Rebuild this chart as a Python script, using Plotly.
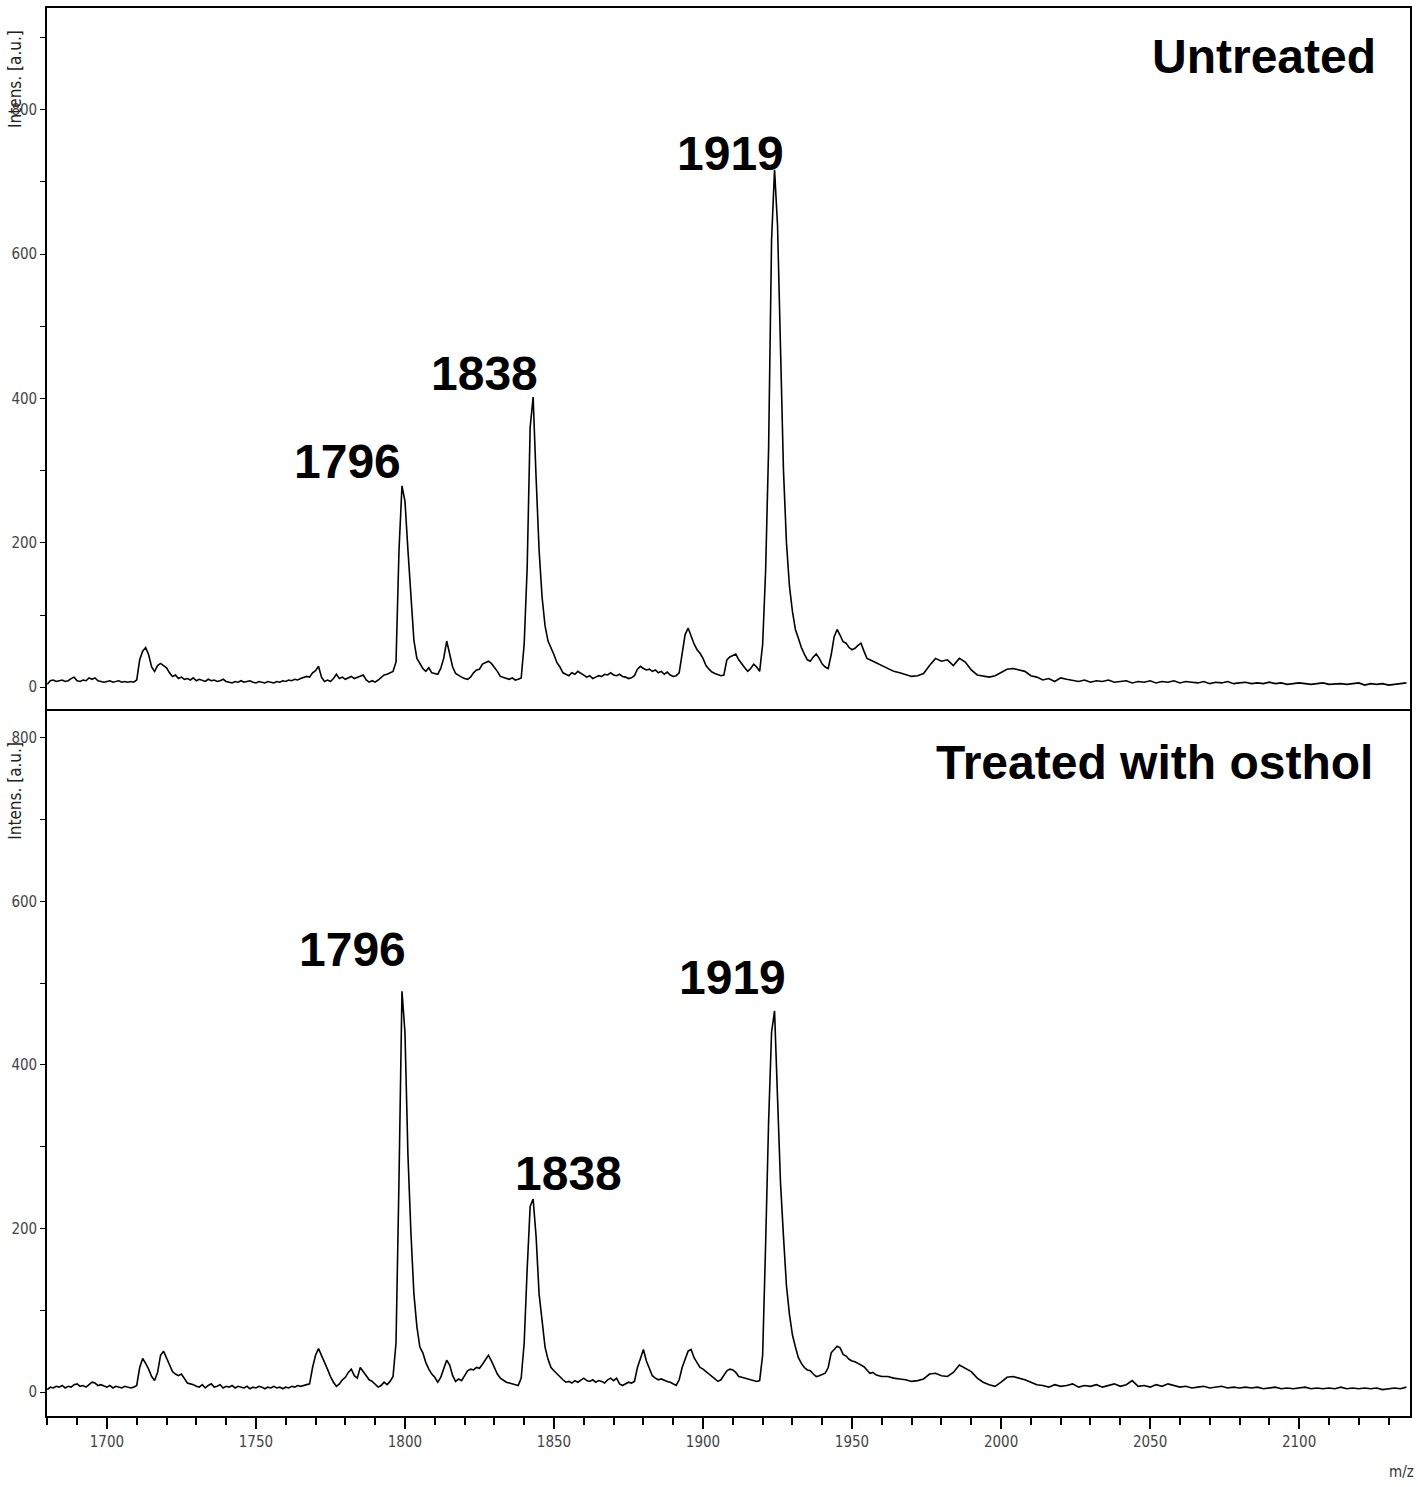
import plotly.graph_objects as go
from plotly.subplots import make_subplots

# m/z sampling of the traced spectra (1 Da steps up to 1960, then 2 Da steps)
mz = [
    1680, 1681, 1682, 1683, 1684, 1685, 1686, 1687, 1688, 1689,
    1690, 1691, 1692, 1693, 1694, 1695, 1696, 1697, 1698, 1699,
    1700, 1701, 1702, 1703, 1704, 1705, 1706, 1707, 1708, 1709,
    1710, 1711, 1712, 1713, 1714, 1715, 1716, 1717, 1718, 1719,
    1720, 1721, 1722, 1723, 1724, 1725, 1726, 1727, 1728, 1729,
    1730, 1731, 1732, 1733, 1734, 1735, 1736, 1737, 1738, 1739,
    1740, 1741, 1742, 1743, 1744, 1745, 1746, 1747, 1748, 1749,
    1750, 1751, 1752, 1753, 1754, 1755, 1756, 1757, 1758, 1759,
    1760, 1761, 1762, 1763, 1764, 1765, 1766, 1767, 1768, 1769,
    1770, 1771, 1772, 1773, 1774, 1775, 1776, 1777, 1778, 1779,
    1780, 1781, 1782, 1783, 1784, 1785, 1786, 1787, 1788, 1789,
    1790, 1791, 1792, 1793, 1794, 1795, 1796, 1797, 1798, 1799,
    1800, 1801, 1802, 1803, 1804, 1805, 1806, 1807, 1808, 1809,
    1810, 1811, 1812, 1813, 1814, 1815, 1816, 1817, 1818, 1819,
    1820, 1821, 1822, 1823, 1824, 1825, 1826, 1827, 1828, 1829,
    1830, 1831, 1832, 1833, 1834, 1835, 1836, 1837, 1838, 1839,
    1840, 1841, 1842, 1843, 1844, 1845, 1846, 1847, 1848, 1849,
    1850, 1851, 1852, 1853, 1854, 1855, 1856, 1857, 1858, 1859,
    1860, 1861, 1862, 1863, 1864, 1865, 1866, 1867, 1868, 1869,
    1870, 1871, 1872, 1873, 1874, 1875, 1876, 1877, 1878, 1879,
    1880, 1881, 1882, 1883, 1884, 1885, 1886, 1887, 1888, 1889,
    1890, 1891, 1892, 1893, 1894, 1895, 1896, 1897, 1898, 1899,
    1900, 1901, 1902, 1903, 1904, 1905, 1906, 1907, 1908, 1909,
    1910, 1911, 1912, 1913, 1914, 1915, 1916, 1917, 1918, 1919,
    1920, 1921, 1922, 1923, 1924, 1925, 1926, 1927, 1928, 1929,
    1930, 1931, 1932, 1933, 1934, 1935, 1936, 1937, 1938, 1939,
    1940, 1941, 1942, 1943, 1944, 1945, 1946, 1947, 1948, 1949,
    1950, 1951, 1952, 1953, 1954, 1955, 1956, 1957, 1958, 1959,
    1960,
    1962, 1964, 1966, 1968, 1970, 1972, 1974, 1976, 1978, 1980,
    1982, 1984, 1986, 1988, 1990, 1992, 1994, 1996, 1998, 2000,
    2002, 2004, 2006, 2008, 2010, 2012, 2014, 2016, 2018, 2020,
    2022, 2024, 2026, 2028, 2030, 2032, 2034, 2036, 2038, 2040,
    2042, 2044, 2046, 2048, 2050, 2052, 2054, 2056, 2058, 2060,
    2062, 2064, 2066, 2068, 2070, 2072, 2074, 2076, 2078, 2080,
    2082, 2084, 2086, 2088, 2090, 2092, 2094, 2096, 2098, 2100,
    2102, 2104, 2106, 2108, 2110, 2112, 2114, 2116, 2118, 2120,
    2122, 2124, 2126, 2128, 2130, 2132, 2134, 2136,
]

# Intensity [a.u.] - untreated sample
untreated = [
    4, 9, 10, 8, 9, 10, 8, 9, 12, 14,
    9, 8, 10, 9, 13, 11, 13, 9, 8, 7,
    8, 9, 7, 8, 9, 7, 8, 7, 8, 7,
    10, 38, 50, 55, 45, 28, 22, 30, 33, 30,
    27, 20, 15, 17, 12, 14, 11, 12, 10, 13,
    9, 11, 10, 8, 11, 9, 10, 8, 9, 11,
    8, 7, 6, 8, 7, 9, 7, 8, 9, 7,
    6, 8, 7, 6, 8, 7, 6, 8, 7, 9,
    8, 10, 9, 11, 10, 12, 13, 15, 14, 20,
    23, 29, 14, 8, 10, 8, 12, 18, 12, 14,
    11, 13, 15, 12, 14, 16, 17, 10, 7, 9,
    7, 10, 13, 17, 18, 20, 22, 35, 190, 279,
    258, 190, 125, 65, 40, 32, 26, 22, 27, 20,
    19, 18, 26, 40, 64, 45, 28, 19, 16, 14,
    12, 11, 14, 20, 24, 25, 32, 34, 36, 33,
    28, 22, 15, 14, 12, 11, 13, 10, 11, 13,
    60, 165, 360, 402, 290, 190, 125, 85, 64, 55,
    45, 34, 28, 20, 18, 16, 20, 18, 22, 19,
    17, 14, 16, 12, 14, 16, 15, 18, 17, 20,
    17, 16, 18, 15, 14, 12, 13, 16, 25, 29,
    26, 24, 25, 22, 24, 20, 22, 18, 21, 17,
    15, 16, 20, 50, 73, 82, 70, 60, 52, 47,
    40, 30, 25, 21, 19, 18, 16, 17, 38, 42,
    44, 46, 38, 32, 27, 22, 26, 32, 28, 22,
    59, 161, 330, 620, 717, 640, 450, 300, 200, 140,
    105, 80, 68, 55, 46, 38, 36, 42, 46, 40,
    32, 28, 26, 45, 70, 80, 72, 63, 61, 55,
    52, 54, 58, 61, 50, 40, 38, 36, 34, 33,
    30,
    26, 22, 20, 17, 15, 16, 19, 30, 40, 36,
    38, 30, 40, 35, 24, 17, 15, 14, 16, 20,
    25, 26, 24, 22, 16, 14, 10, 12, 8, 13,
    11, 9, 8, 10, 7, 9, 8, 10, 7, 8,
    9, 6, 8, 7, 9, 6, 8, 7, 9, 6,
    8, 7, 6, 8, 5, 7, 6, 8, 5, 6,
    7, 5, 6, 5, 7, 5, 6, 4, 5, 6,
    5, 4, 5, 6, 4, 5, 5, 4, 5, 6,
    3, 5, 4, 5, 3, 4, 5, 6,
]

# Intensity [a.u.] - sample treated with osthol
treated = [
    3, 6, 5, 7, 6, 8, 5, 7, 6, 9,
    10, 7, 8, 6, 9, 12, 11, 8, 9, 7,
    6, 8, 5, 7, 6, 5, 7, 6, 5, 6,
    8, 30, 41, 35, 28, 19, 14, 24, 45, 50,
    42, 34, 25, 22, 20, 22, 16, 11, 10, 9,
    7, 6, 9, 5, 8, 10, 6, 7, 9, 5,
    7, 6, 8, 5, 7, 6, 5, 7, 4, 6,
    5, 7, 6, 4, 6, 5, 7, 5, 6, 4,
    6, 5, 7, 6, 8, 7, 8, 9, 10, 30,
    45, 53, 45, 38, 28, 19, 12, 7, 10, 15,
    18, 24, 28, 20, 17, 30, 25, 19, 15, 13,
    9, 6, 8, 12, 9, 13, 19, 60, 260, 490,
    440, 290, 195, 120, 80, 55, 48, 36, 28, 22,
    18, 12, 18, 30, 39, 33, 20, 13, 16, 14,
    20, 26, 28, 27, 30, 29, 34, 40, 45, 38,
    30, 22, 17, 14, 12, 11, 10, 9, 8, 17,
    60, 150, 227, 236, 190, 120, 85, 55, 40, 30,
    26, 22, 18, 15, 12, 13, 11, 14, 12, 15,
    17, 14, 13, 15, 12, 14, 13, 11, 15, 17,
    14, 17, 10, 8, 10, 12, 11, 13, 30, 40,
    52, 38, 28, 20, 17, 15, 16, 14, 13, 12,
    10, 8, 15, 30, 40, 50, 52, 42, 36, 30,
    28, 25, 22, 20, 16, 13, 15, 20, 26, 28,
    27, 24, 19, 18, 17, 16, 15, 14, 13, 14,
    45, 180, 330, 440, 466, 360, 256, 190, 130, 95,
    70, 55, 42, 35, 30, 27, 26, 22, 19, 20,
    22, 23, 30, 48, 52, 56, 54, 46, 44, 40,
    38, 37, 35, 33, 31, 27, 23, 24, 21, 20,
    19,
    19, 17, 16, 15, 13, 14, 16, 22, 23, 20,
    19, 24, 33, 29, 25, 17, 12, 9, 7, 12,
    18, 19, 17, 15, 12, 9, 8, 6, 9, 7,
    8, 10, 6, 8, 7, 9, 6, 8, 10, 7,
    9, 14, 7, 8, 6, 9, 7, 10, 8, 6,
    7, 5, 6, 7, 5, 6, 7, 5, 6, 5,
    6, 5, 6, 4, 5, 6, 4, 5, 4, 5,
    6, 4, 5, 4, 5, 4, 6, 4, 5, 4,
    5, 4, 5, 3, 4, 5, 4, 6,
]

# labelled peaks: text and m/z of the apex
peak_labels = ["1796", "1838", "1919"]
peak_apex_mz = [1799, 1843, 1924]

assert len(mz) == len(untreated) == len(treated)

LABEL_FONT = dict(family="Liberation Sans, Arial, sans-serif", size=48, color="black")
NARROW = "Liberation Sans Narrow, DejaVu Sans Condensed, sans-serif"
TICK_FONT = dict(family=NARROW, size=15, color="#444")

fig = make_subplots(rows=2, cols=1, shared_xaxes=True, vertical_spacing=0)

fig.add_trace(
    go.Scatter(x=mz, y=untreated, mode="lines", line=dict(color="black", width=1.6)),
    row=1, col=1,
)
fig.add_trace(
    go.Scatter(x=mz, y=treated, mode="lines", line=dict(color="black", width=1.6)),
    row=2, col=1,
)

fig.update_xaxes(
    range=[1679.9, 2137.2], showline=True, linecolor="black", linewidth=1.6,
    showgrid=False, zeroline=False,
)
# top panel: full box; its bottom edge is the divider between the panels
fig.update_xaxes(showticklabels=False, ticks="", mirror=True, row=1, col=1)
fig.update_xaxes(
    mirror=False,
    ticks="outside", tick0=1700, dtick=50, ticklen=11, tickwidth=1.5, tickcolor="black",
    minor=dict(ticks="outside", dtick=10, ticklen=7, tickwidth=1.5, tickcolor="black"),
    tickfont=TICK_FONT,
    row=2, col=1,
)
fig.update_yaxes(
    ticks="outside", tick0=0, dtick=200, ticklen=5, tickwidth=1.2, tickcolor="black",
    minor=dict(ticks="outside", dtick=100, ticklen=5, tickwidth=1.2, tickcolor="black"),
    tickfont=TICK_FONT,
    showline=True, mirror=True, linecolor="black", linewidth=1.6,
    showgrid=False, zeroline=False,
)
fig.update_yaxes(range=[-30.4, 941], domain=[0.502, 1.0], row=1, col=1)
fig.update_yaxes(range=[-29.3, 835], domain=[0.0, 0.502], row=2, col=1)

# peak labels, placed relative to each apex
top_shifts = [(-54, 24), (-49, 24), (-44, 16)]
bottom_shifts = [(-49, 42), (35, 26), (-42, 33)]
for series, xref, yref, shifts in [
    (untreated, "x", "y", top_shifts),
    (treated, "x2", "y2", bottom_shifts),
]:
    for label, apex, (dx, dy) in zip(peak_labels, peak_apex_mz, shifts):
        fig.add_annotation(
            x=apex, y=series[mz.index(apex)], xref=xref, yref=yref,
            text=f"<b>{label}</b>", showarrow=False,
            xshift=dx, yshift=dy, yanchor="middle", font=LABEL_FONT,
        )

# panel titles
fig.add_annotation(
    x=0.9765, y=0.9652, xref="paper", yref="paper", text="<b>Untreated</b>",
    showarrow=False, xanchor="right", yanchor="middle", font=LABEL_FONT,
)
fig.add_annotation(
    x=0.9743, y=0.4638, xref="paper", yref="paper", text="<b>Treated with osthol</b>",
    showarrow=False, xanchor="right", yanchor="middle", font=LABEL_FONT,
)

# y axis titles near the top of each panel, and m/z label
for ypos in [0.9496, 0.444]:
    fig.add_annotation(
        x=-0.0235, y=ypos, xref="paper", yref="paper", text="Intens. [a.u.]",
        textangle=-90, showarrow=False, xanchor="center", yanchor="middle",
        font=dict(family=NARROW, size=17, color="#222"),
    )
fig.add_annotation(
    x=0.9935, y=-0.0397, xref="paper", yref="paper", text="m/z",
    showarrow=False, xanchor="center", yanchor="middle",
    font=dict(family=NARROW, size=15, color="#333"),
)

fig.update_layout(
    width=1418,
    height=1487,
    margin=dict(l=47, r=8, t=6, b=71),
    paper_bgcolor="white",
    plot_bgcolor="white",
    showlegend=False,
)

# the page body has a default margin that would push the fixed-size figure off the window
fig.write_html(
    "out.html",
    config={"displayModeBar": False},
    post_script="document.body.style.margin='0';",
)
